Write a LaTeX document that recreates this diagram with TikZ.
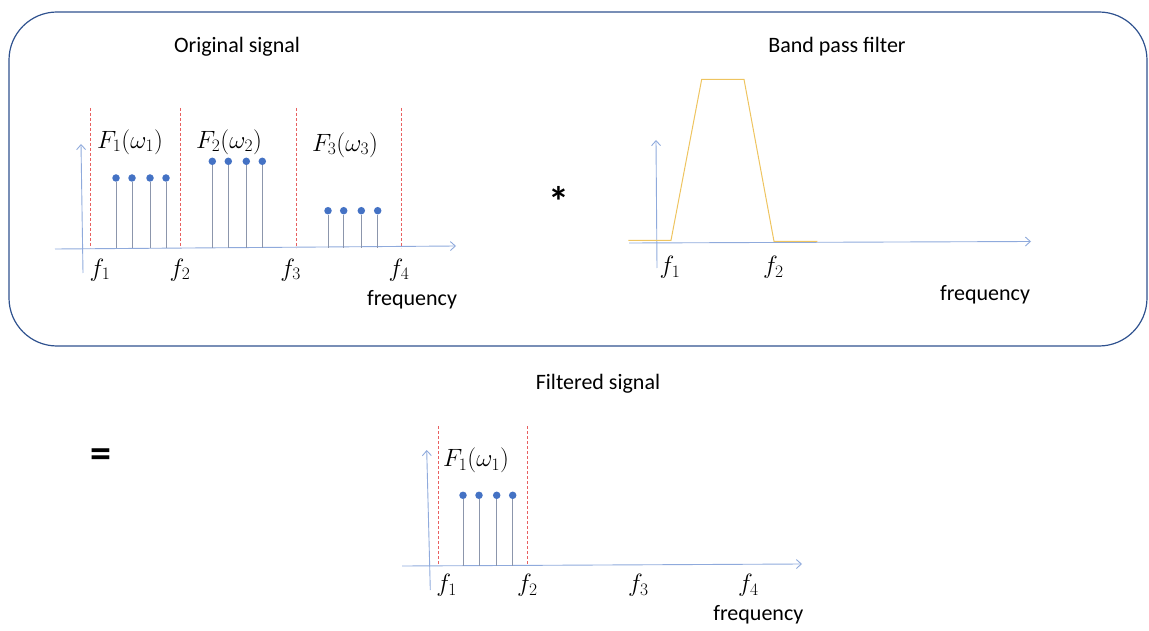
\RequirePackage{fix-cm}
\documentclass[tikz,border=0pt]{standalone}
\usepackage{fontspec}
\setmainfont{Carlito}
\usetikzlibrary{arrows.meta}
\definecolor{boxblue}{RGB}{47,82,143}
\definecolor{axisblue}{RGB}{143,170,220}
\definecolor{stemgray}{RGB}{140,150,172}
\definecolor{dotblue}{RGB}{68,114,196}
\definecolor{dashred}{RGB}{232,96,96}
\definecolor{filterorange}{RGB}{238,196,96}
\tikzset{
  sigaxis/.style={draw=axisblue, line width=0.9pt, -{Straight Barb[length=5pt,width=9pt,line width=0.9pt]}},
  bandline/.style={draw=dashred, line width=0.7pt, dash pattern=on 3pt off 2pt},
  stemline/.style={draw=stemgray, line width=1pt},
  stemdot/.style={circle, fill=dotblue, inner sep=0pt, minimum size=7.5pt},
  txt/.style={inner sep=0pt, font=\fontsize{22}{26}\selectfont},
  mlbl/.style={inner sep=0pt, font=\fontsize{25}{30}\selectfont},
  bigsym/.style={inner sep=0pt, font=\fontsize{42}{48}\selectfont\bfseries},
  boxline/.style={draw=boxblue, line width=1.2pt, rounded corners=48pt},
  filterline/.style={draw=filterorange, line width=1pt}
}
\begin{document}
\begin{tikzpicture}[x=1pt,y=-1pt]
\useasboundingbox (0,0) rectangle (1149,631);
% outer rounded box
\coordinate (boxa) at (9,12);
\coordinate (boxb) at (1147,346);
\draw[boxline] (boxa) rectangle (boxb);

% ---------- Original signal ----------
\node[txt] (titleA) at (237,47) {Original signal};
\coordinate (hA0) at (55,249);
\coordinate (hA1) at (456,246);
\draw[sigaxis] (hA0) -- (hA1);
\coordinate (vA0) at (83,273);
\coordinate (vA1) at (81,144);
\draw[sigaxis] (vA0) -- (vA1);
\foreach \x/\n in {90.7/dA1,180.7/dA2,296/dA3,401/dA4}{
  \coordinate (\n t) at (\x,108);
  \coordinate (\n b) at (\x,248);
  \draw[bandline] (\n t) -- (\n b);
}
\foreach \x/\y/\n in {116/178/sA1,132/178/sA2,150/178/sA3,166/178/sA4,
                      212.3/161.3/sA5,228.3/161.3/sA6,246.3/161.3/sA7,262.3/161.3/sA8,
                      328/210.7/sA9,343.7/210.7/sA10,361.3/210.7/sA11,377.7/210.7/sA12}{
  \coordinate (\n b) at (\x,248);
  \node[stemdot] (\n) at (\x,\y) {};
  \draw[stemline] (\n b) -- (\n.south);
}
\node[mlbl] (FA1) at (130,142) {$F_1(\omega_1)$};
\node[mlbl] (FA2) at (229,142) {$F_2(\omega_2)$};
\node[mlbl] (FA3) at (345,145) {$F_3(\omega_3)$};
\node[mlbl] (fA1) at (100,270) {$f_1$};
\node[mlbl] (fA2) at (180,270) {$f_2$};
\node[mlbl] (fA3) at (290.7,270) {$f_3$};
\node[mlbl] (fA4) at (399,270) {$f_4$};
\node[txt] (freqA) at (412,300) {frequency};

% convolution sign
\node[bigsym] (conv) at (559,201) {*};

% ---------- Band pass filter ----------
\node[txt] (titleB) at (837,47) {Band pass filter};
\coordinate (hB0) at (629,243);
\coordinate (hB1) at (1031,241.5);
\draw[sigaxis] (hB0) -- (hB1);
\coordinate (vB0) at (657,268);
\coordinate (vB1) at (656,140);
\draw[sigaxis] (vB0) -- (vB1);
\coordinate (p1) at (628.3,240.3);
\coordinate (p2) at (671,240.3);
\coordinate (p3) at (701.7,79.3);
\coordinate (p4) at (744,79.3);
\coordinate (p5) at (774,241.3);
\coordinate (p6) at (817.3,241.3);
\draw[filterline] (p1) -- (p2) -- (p3) -- (p4) -- (p5) -- (p6);
\node[mlbl] (fB1) at (670,267) {$f_1$};
\node[mlbl] (fB2) at (773.3,267) {$f_2$};
\node[txt] (freqB) at (985,295) {frequency};

% ---------- Filtered signal ----------
\node[txt] (titleC) at (598,384) {Filtered signal};
\node[bigsym] (eqsign) at (101,458) {=};
\coordinate (hC0) at (402,566);
\coordinate (hC1) at (802,564);
\draw[sigaxis] (hC0) -- (hC1);
\coordinate (vC0) at (430.3,590);
\coordinate (vC1) at (426.7,450);
\draw[sigaxis] (vC0) -- (vC1);
\foreach \x/\n in {438.7/dC1,527.3/dC2}{
  \coordinate (\n t) at (\x,426);
  \coordinate (\n b) at (\x,565.5);
  \draw[bandline] (\n t) -- (\n b);
}
\foreach \x/\n in {463/sC1,479/sC2,496.7/sC3,512.7/sC4}{
  \coordinate (\n b) at (\x,565.5);
  \node[stemdot] (\n) at (\x,495.3) {};
  \draw[stemline] (\n b) -- (\n.south);
}
\node[mlbl] (FC1) at (476,460) {$F_1(\omega_1)$};
\node[mlbl] (fC1) at (446.7,585) {$f_1$};
\node[mlbl] (fC2) at (527.3,585) {$f_2$};
\node[mlbl] (fC3) at (638.3,585) {$f_3$};
\node[mlbl] (fC4) at (748.3,585) {$f_4$};
\node[txt] (freqC) at (758.3,615) {frequency};
\end{tikzpicture}
\end{document}
